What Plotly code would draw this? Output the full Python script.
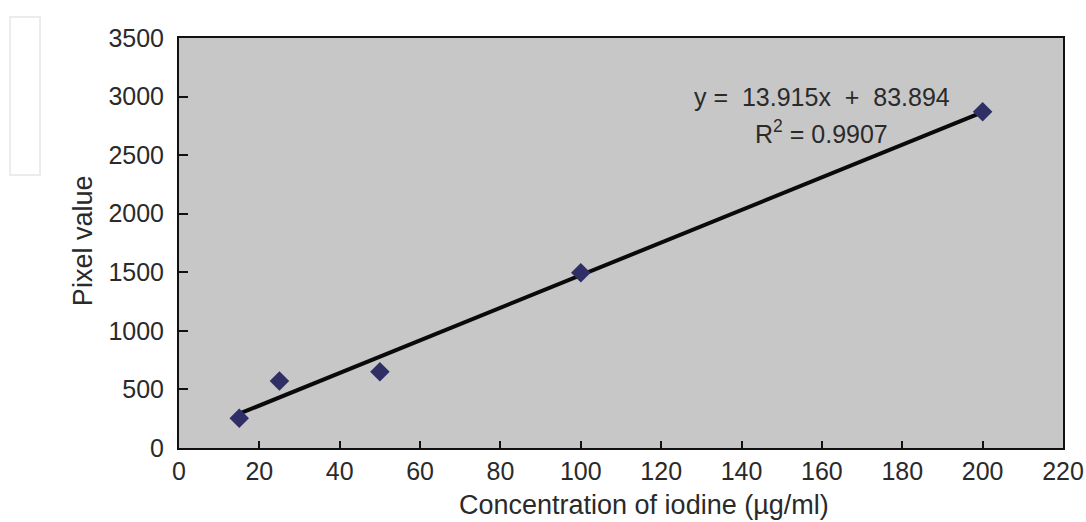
import plotly.graph_objects as go

# Data
concentration = [15, 25, 50, 100, 200]
pixel_value = [255, 572, 650, 1495, 2870]
slope = 13.915
intercept = 83.894
x_ticks = [0, 20, 40, 60, 80, 100, 120, 140, 160, 180, 200, 220]
y_ticks = [0, 500, 1000, 1500, 2000, 2500, 3000, 3500]

fit_x = [min(concentration), max(concentration)]
fit_y = [slope * v + intercept for v in fit_x]

FONT = "Liberation Sans, Arial, sans-serif"
TXT = "#2a2a2a"

fig = go.Figure()
fig.add_trace(go.Scatter(
    x=fit_x, y=fit_y, mode="lines",
    line=dict(color="#0a0a0a", width=4), showlegend=False, hoverinfo="skip"))
fig.add_trace(go.Scatter(
    x=concentration, y=pixel_value, mode="markers",
    marker=dict(symbol="diamond", size=15, color="#2f2f66",
                line=dict(width=0)), showlegend=False))

fig.update_layout(
    width=1086, height=522,
    margin=dict(l=179, r=23, t=38, b=74, autoexpand=False),
    paper_bgcolor="white", plot_bgcolor="#c7c7c7",
    font=dict(family=FONT, size=25, color=TXT),
    xaxis=dict(range=[0, 220], tickvals=x_ticks, ticks="inside", ticklen=7,
               tickwidth=2, tickcolor="#111", showgrid=False, zeroline=False,
               showline=True, linecolor="#111", linewidth=2, mirror=True,
               automargin=False, tickfont=dict(size=25, color=TXT)),
    yaxis=dict(range=[0, 3500], tickvals=y_ticks, ticks="inside", ticklen=9,
               tickwidth=2, tickcolor="#111", showgrid=False, zeroline=False,
               showline=True, linecolor="#111", linewidth=2, mirror=True,
               automargin=False, ticklabelstandoff=8,
               tickfont=dict(size=25, color=TXT)),
    annotations=[
        dict(text="Concentration of iodine (µg/ml)", xref="paper", yref="paper",
             x=0.526, y=-0.139, showarrow=False, xanchor="center", yanchor="middle",
             font=dict(size=27, color=TXT)),
        dict(text="Pixel value", xref="paper", yref="paper", textangle=-90,
             x=-0.1086, y=0.507, showarrow=False, xanchor="center", yanchor="middle",
             font=dict(size=27, color=TXT)),
        dict(text="y =  13.915x  +  83.894", xref="x", yref="y", x=160, y=2997,
             showarrow=False, xanchor="center", yanchor="middle",
             font=dict(size=25, color=TXT)),
        dict(text="R<sup>2</sup> = 0.9907", xref="x", yref="y", x=160, y=2698,
             showarrow=False, xanchor="center", yanchor="middle",
             font=dict(size=25, color=TXT)),
    ],
    shapes=[
        dict(type="rect", xref="paper", yref="paper",
             x0=(10 - 179) / 884, x1=(40 - 179) / 884,
             y0=(448 - 175) / 410, y1=(448 - 17) / 410,
             line=dict(color="#ececec", width=2), layer="below"),
    ],
)

fig.write_html("out.html", config={"displayModeBar": False},
               post_script="document.body.style.margin='0px';")
